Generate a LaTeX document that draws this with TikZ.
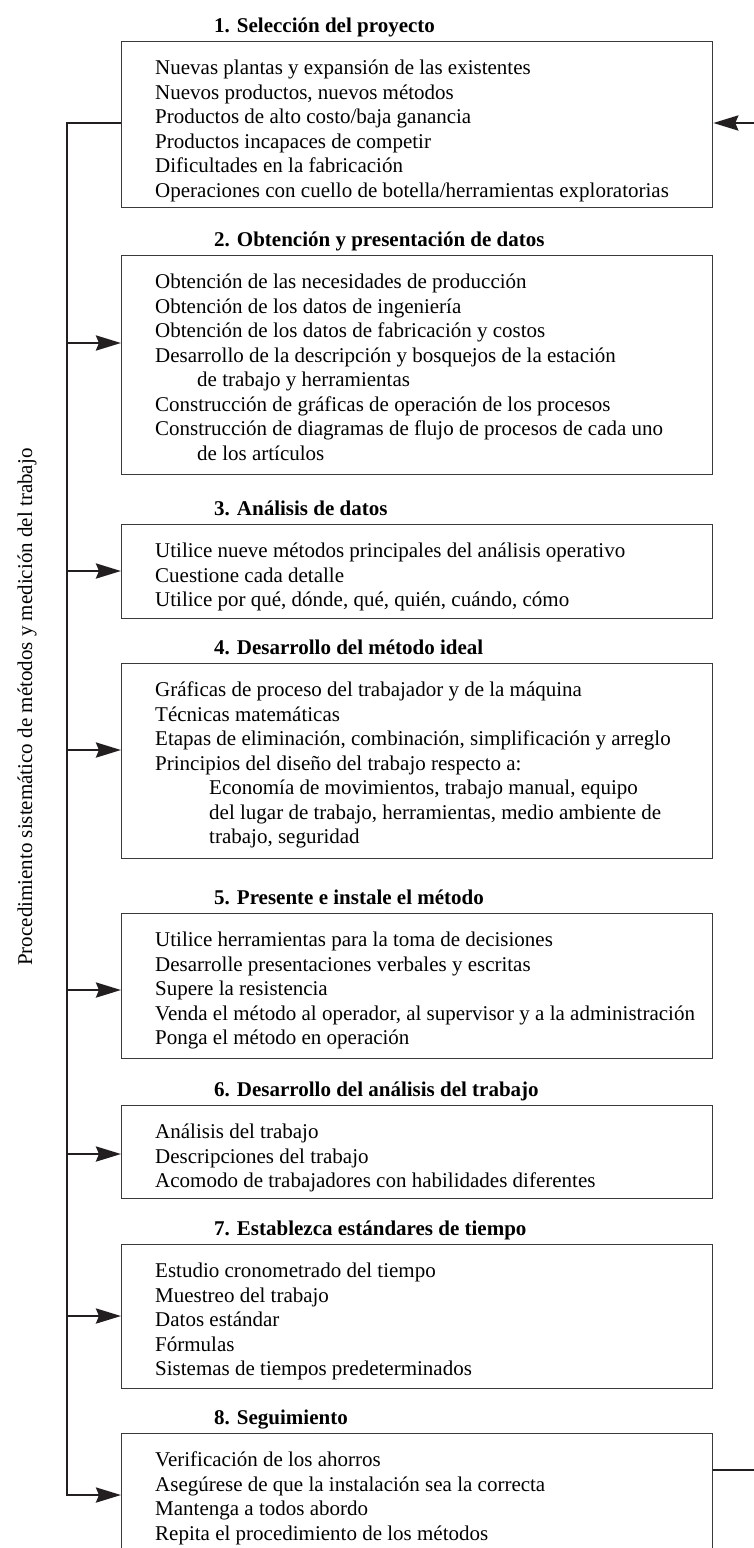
\documentclass[tikz,border=0pt]{standalone}
\usepackage{fontspec}
\setmainfont{Liberation Serif}
\usetikzlibrary{arrows.meta}
\definecolor{ink}{HTML}{231F20}
\definecolor{boxline}{HTML}{3A3A3A}
\newcommand{\boxlines}[1]{\begin{tabular}[t]{@{}l@{}}#1\end{tabular}}
\tikzset{
  stepbox/.style={draw=boxline, line width=1.3pt, minimum width=591pt, anchor=north west, inner sep=0pt},
  boxtext/.style={anchor=base west, inner sep=0pt, font=\fontsize{21}{24.5}\selectfont},
  titletext/.style={anchor=base west, inner sep=0pt, font=\fontsize{21}{24}\selectfont\bfseries},
  conn/.style={draw=ink, line width=2.8pt},
  arr/.style={conn, -{Stealth[length=25pt, width=15pt, inset=3pt]}}
}
\begin{document}
\begin{tikzpicture}[x=1pt, y=-1pt]
\useasboundingbox (0,0) rectangle (754,1548);

% boxes
\node[stepbox, minimum height=166pt] (b1) at (121,41) {};
\node[stepbox, minimum height=219pt] (b2) at (121,255) {};
\node[stepbox, minimum height=94pt]  (b3) at (121,524) {};
\node[stepbox, minimum height=195pt] (b4) at (121,663) {};
\node[stepbox, minimum height=145pt] (b5) at (121,913) {};
\node[stepbox, minimum height=93pt]  (b6) at (121,1105) {};
\node[stepbox, minimum height=144pt] (b7) at (121,1244) {};
\node[stepbox, minimum height=130pt] (b8) at (121,1433) {};

% titles
\node[titletext] (h1) at (214,32) {1. Selección del proyecto};
\node[titletext] (h2) at (214,246) {2. Obtención y presentación de datos};
\node[titletext] (h3) at (214,515) {3. Análisis de datos};
\node[titletext] (h4) at (214,654) {4. Desarrollo del método ideal};
\node[titletext] (h5) at (214,904) {5. Presente e instale el método};
\node[titletext] (h6) at (214,1096) {6. Desarrollo del análisis del trabajo};
\node[titletext] (h7) at (214,1235) {7. Establezca estándares de tiempo};
\node[titletext] (h8) at (214,1424) {8. Seguimiento};

% box texts
\node[boxtext] (t1) at (155,74.5) {\boxlines{Nuevas plantas y expansión de las existentes\\
Nuevos productos, nuevos métodos\\
Productos de alto costo/baja ganancia\\
Productos incapaces de competir\\
Dificultades en la fabricación\\
Operaciones con cuello de botella/herramientas exploratorias}};

\node[boxtext] (t2) at (155,288.5) {\boxlines{Obtención de las necesidades de producción\\
Obtención de los datos de ingeniería\\
Obtención de los datos de fabricación y costos\\
Desarrollo de la descripción y bosquejos de la estación\\
\hspace*{42pt}de trabajo y herramientas\\
Construcción de gráficas de operación de los procesos\\
Construcción de diagramas de flujo de procesos de cada uno\\
\hspace*{42pt}de los artículos}};

\node[boxtext] (t3) at (155,557.5) {\boxlines{Utilice nueve métodos principales del análisis operativo\\
Cuestione cada detalle\\
Utilice por qué, dónde, qué, quién, cuándo, cómo}};

\node[boxtext] (t4) at (155,696.5) {\boxlines{Gráficas de proceso del trabajador y de la máquina\\
Técnicas matemáticas\\
Etapas de eliminación, combinación, simplificación y arreglo\\
Principios del diseño del trabajo respecto a:\\
\hspace*{54pt}Economía de movimientos, trabajo manual, equipo\\
\hspace*{54pt}del lugar de trabajo, herramientas, medio ambiente de\\
\hspace*{54pt}trabajo, seguridad}};

\node[boxtext] (t5) at (155,946.5) {\boxlines{Utilice herramientas para la toma de decisiones\\
Desarrolle presentaciones verbales y escritas\\
Supere la resistencia\\
Venda el método al operador, al supervisor y a la administración\\
Ponga el método en operación}};

\node[boxtext] (t6) at (155,1138.5) {\boxlines{Análisis del trabajo\\
Descripciones del trabajo\\
Acomodo de trabajadores con habilidades diferentes}};

\node[boxtext] (t7) at (155,1277.5) {\boxlines{Estudio cronometrado del tiempo\\
Muestreo del trabajo\\
Datos estándar\\
Fórmulas\\
Sistemas de tiempos predeterminados}};

\node[boxtext] (t8) at (155,1466.5) {\boxlines{Verificación de los ahorros\\
Asegúrese de que la instalación sea la correcta\\
Mantenga a todos abordo\\
Repita el procedimiento de los métodos}};

% vertical label
\node[rotate=90, anchor=base west, inner sep=0pt, font=\fontsize{21}{24}\selectfont] (lab) at (32,966)
  {Procedimiento sistemático de métodos y medición del trabajo};

% left feedback line
\coordinate (v1) at (67,123);
\coordinate (v2) at (67,343);
\coordinate (v3) at (67,571);
\coordinate (v4) at (67,750);
\coordinate (v5) at (67,990);
\coordinate (v6) at (67,1154);
\coordinate (v7) at (67,1316);
\coordinate (v8) at (67,1495);
\draw[conn, line join=miter] (v1 -| b1.west) -- (v1) -- (v8) -- ++(20,0);
\draw[arr] (v8) -- (v8 -| b8.west);
\draw[arr] (v2) -- (v2 -| b2.west);
\draw[arr] (v3) -- (v3 -| b3.west);
\draw[arr] (v4) -- (v4 -| b4.west);
\draw[arr] (v5) -- (v5 -| b5.west);
\draw[arr] (v6) -- (v6 -| b6.west);
\draw[arr] (v7) -- (v7 -| b7.west);

% right return line (continues beyond the frame)
\coordinate (r1) at (754,123);
\coordinate (r8) at (754,1470);
\draw[arr] (r1) -- (r1 -| b1.east);
\draw[conn] (r8 -| b8.east) -- (r8);
\end{tikzpicture}
\end{document}
